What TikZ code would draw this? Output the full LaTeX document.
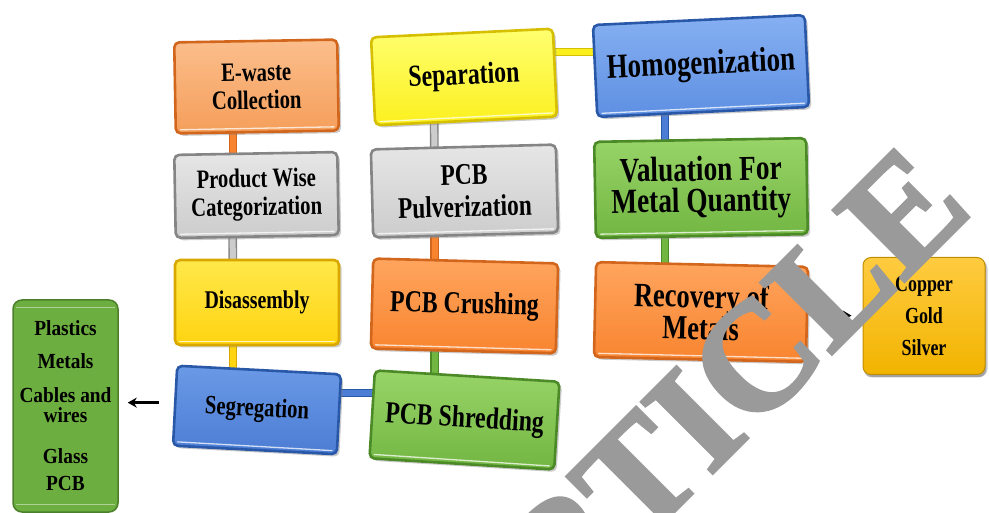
\documentclass[tikz,border=0pt]{standalone}
\usepackage{fontspec}
\setmainfont{Liberation Serif}
\newfontfamily\boxfont[FakeStretch=0.78]{Liberation Serif}
\newfontfamily\listfont[FakeStretch=0.9]{Liberation Serif}
\newfontfamily\stampfont[FakeBold=2]{Liberation Serif}
\usetikzlibrary{shadows,arrows.meta,backgrounds}

% box fills: top / bottom / rim
\definecolor{oraLT}{HTML}{FBBE8C}\definecolor{oraLB}{HTML}{F59E5A}
\definecolor{oraT}{HTML}{FFA55E}\definecolor{oraB}{HTML}{F8842F}\definecolor{oraD}{HTML}{D2661C}
\definecolor{gryT}{HTML}{E6E6E6}\definecolor{gryB}{HTML}{CCCCCC}\definecolor{gryD}{HTML}{858585}
\definecolor{ylwT}{HTML}{FFFF70}\definecolor{ylwB}{HTML}{FBF01E}\definecolor{ylwD}{HTML}{D6BE00}
\definecolor{gldT}{HTML}{FFE84A}\definecolor{gldB}{HTML}{FFD411}\definecolor{gldD}{HTML}{D9A800}
\definecolor{bluLT}{HTML}{86B0F2}\definecolor{bluLB}{HTML}{5E8FE2}
\definecolor{bluT}{HTML}{6A99E6}\definecolor{bluB}{HTML}{4C7DD4}\definecolor{bluD}{HTML}{2A58A8}
\definecolor{grnT}{HTML}{98D468}\definecolor{grnB}{HTML}{72B642}\definecolor{grnD}{HTML}{4C8A28}
\definecolor{ambT}{HTML}{FFCB40}\definecolor{ambB}{HTML}{F2B400}\definecolor{ambD}{HTML}{C08E00}
\definecolor{lstF}{HTML}{6CAE3F}\definecolor{lstD}{HTML}{4C7F2B}
\definecolor{wmgray}{HTML}{9A9A9A}

\begin{document}
\begin{tikzpicture}[x=1pt,y=-1pt,
  box/.style n args={3}{draw=#3, line width=2.6pt, top color=#1, bottom color=#2,
    rounded corners=5pt, align=center, inner sep=0pt, text=black,
    drop shadow={shadow xshift=2.5pt, shadow yshift=-2.5pt, opacity=.4}},
  fs/.style 2 args={font=\boxfont\bfseries\fontsize{#1}{#2}\selectfont},
  bar/.style 2 args={draw=#2, double=#1, line width=1.4pt, double distance=6pt},
  arr/.style={draw=black, line width=2.6pt, -{Stealth[length=9pt,width=10pt]}},
  shine/.style={white, opacity=.75, line width=1.3pt, line cap=round}]
\useasboundingbox (0,0) rectangle (989,513);
\clip (0,0) rectangle (989,513);

% column 1
\node[box={oraLT}{oraLB}{oraD}, minimum width=163pt, minimum height=91pt, rotate=1, fs={26.5}{28}]
  (ewaste) at (256.5,86.5) {E-waste\\Collection};
\node[box={gryT}{gryB}{gryD}, minimum width=163pt, minimum height=83pt, rotate=1, fs={26.5}{28}]
  (prod) at (256.5,195) {Product Wise\\Categorization};
\node[box={gldT}{gldB}{gldD}, minimum width=164pt, minimum height=85pt, fs={25.5}{28}]
  (disas) at (257,302.5) {Disassembly};
\node[box={bluT}{bluB}{bluD}, minimum width=164pt, minimum height=80pt, rotate=-3, fs={26.5}{28}]
  (seg) at (257,410) {Segregation};

% column 2
\node[box={grnT}{grnB}{grnD}, minimum width=185pt, minimum height=88pt, rotate=-3.5, fs={30.5}{32}]
  (shred) at (464.5,420) {PCB Shredding};
\node[box={oraT}{oraB}{oraD}, minimum width=185pt, minimum height=90pt, rotate=-1.5, fs={30.5}{32}]
  (crush) at (464.5,306) {PCB Crushing};
\node[box={gryT}{gryB}{gryD}, minimum width=185pt, minimum height=88pt, rotate=1.5, fs={30}{32}]
  (pulv) at (464.5,191) {PCB\\Pulverization};
\node[box={ylwT}{ylwB}{ylwD}, minimum width=182pt, minimum height=88pt, rotate=2.7, fs={30.5}{32}]
  (sep) at (464,77) {Separation};

% column 3
\node[box={bluLT}{bluLB}{bluD}, minimum width=212pt, minimum height=92pt, rotate=2.7, fs={34.5}{32}]
  (homo) at (701,66) {Homogenization};
\node[box={grnT}{grnB}{grnD}, minimum width=212pt, minimum height=96pt, rotate=1, fs={35}{31}]
  (val) at (701,188) {Valuation For\\Metal Quantity};
\node[box={oraT}{oraB}{oraD}, minimum width=212pt, minimum height=95pt, rotate=-1.3, fs={34}{32}]
  (rec) at (701,312) {Recovery of\\Metals};

% outputs
\node[box={ambT}{ambB}{ambD}, line width=1pt, rounded corners=8pt, minimum width=122pt, minimum height=117pt,
  drop shadow={shadow xshift=1pt, shadow yshift=-3pt, opacity=.55}, fs={23}{32}]
  (metals) at (924,316) {Copper\\Gold\\Silver};
\node[draw=lstD, fill=lstF, line width=1.5pt, rounded corners=9pt, minimum width=105pt, minimum height=212pt,
  align=center, inner sep=0pt, font=\listfont\bfseries\fontsize{21.5}{20}\selectfont]
  (list) at (65.5,406) {Plastics\\[13pt]Metals\\[14pt]Cables and\\wires\\[21pt]Glass\\[7pt]PCB};

% linking bars, drawn beneath the boxes
\begin{scope}[on background layer]
  \draw[bar={oraB}{oraD}] ([xshift=-23.5pt]ewaste.center) -- ([xshift=-23.5pt]prod.center);
  \draw[bar={gryB}{gryD}] ([xshift=-24pt]prod.center) -- ([xshift=-24pt]disas.center);
  \draw[bar={gldB}{gldD}] ([xshift=-24pt]disas.center) -- ([xshift=-24pt]seg.center);
  \draw[bar={bluB}{bluD}] ([yshift=17pt]seg.center) -- ([yshift=27pt]shred.center);
  \draw[bar={grnB}{grnD}] ([xshift=-30pt]shred.center) -- ([xshift=-30pt]crush.center);
  \draw[bar={oraB}{oraD}] ([xshift=-30pt]crush.center) -- ([xshift=-30pt]pulv.center);
  \draw[bar={gryB}{gryD}] ([xshift=-30pt]pulv.center) -- ([xshift=-30pt]sep.center);
  \draw[bar={ylwB}{ylwD}] ([yshift=25pt]sep.center) -- ([yshift=14pt]homo.center);
  \draw[bar={bluB}{bluD}] ([xshift=-36pt]homo.center) -- ([xshift=-36pt]val.center);
  \draw[bar={grnB}{grnD}] ([xshift=-36pt]val.center) -- ([xshift=-36pt]rec.center);
\end{scope}

% bevel highlights along the lower rims
\foreach \n in {ewaste,prod,disas,seg,shred,crush,pulv,sep,homo,val,rec}
  \draw[shine] ([shift={(6pt,5pt)}]\n.south west) -- ([shift={(-6pt,5pt)}]\n.south east);
\draw[white, opacity=.45, line width=1pt] ([shift={(4pt,-8pt)}]list.north west) -- ([shift={(-4pt,-8pt)}]list.north east);
\draw[white, opacity=.45, line width=1pt] ([shift={(4pt,8pt)}]list.south west) -- ([shift={(-4pt,8pt)}]list.south east);

% arrows to the sorted fractions
\draw[arr, shorten <=15pt, shorten >=9pt] ([yshift=3pt]seg.west) -- ([yshift=3pt]seg.west -| list.east);
\draw[arr, shorten <=11pt, shorten >=11pt] (rec.east) -- (metals.west);

% stamp across the sheet
\node[rotate=45, text=wmgray, inner sep=0pt, font=\stampfont\bfseries\fontsize{154}{154}\selectfont]
  (stamp) at (733,382) {RTICLE};
\end{tikzpicture}
\end{document}
